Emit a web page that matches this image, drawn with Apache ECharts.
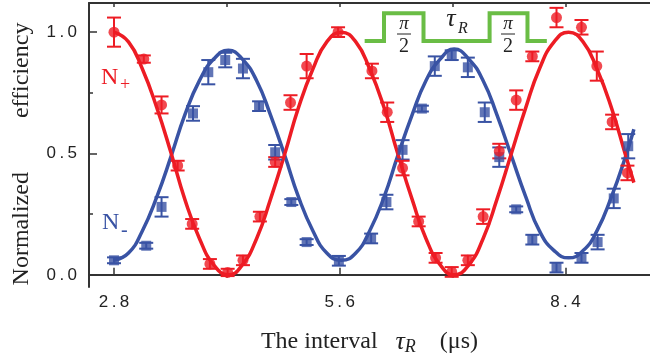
<!DOCTYPE html>
<html>
<head>
<meta charset="utf-8">
<script src="https://cdn.jsdelivr.net/npm/echarts@6/dist/echarts.min.js"></script>
<style>
html,body{margin:0;padding:0;background:#fff;}
#chart{width:650px;height:362px;}
</style>
</head>
<body>
<div id="chart"></div>
<script>
// ---- data ----
const xMajorTicks = [2.8, 5.6, 8.4];
const xMinorTicks = [4.2, 7.0];
const yMajorTicks = [0.0, 0.5, 1.0];
const yMinorTicks = [0.25, 0.75];

const redX   = [2.8, 3.17, 3.39, 3.59, 3.77, 3.99, 4.21, 4.40, 4.61, 4.80, 4.99, 5.19, 5.58, 6.00, 6.19, 6.38, 6.58, 6.79, 6.99, 7.19, 7.38, 7.58, 7.79, 7.99, 8.29, 8.60, 8.79, 8.98, 9.17];
const redY   = [1.00, 0.889, 0.70, 0.45, 0.21, 0.045, 0.01, 0.06, 0.24, 0.465, 0.71, 0.86, 1.00, 0.84, 0.67, 0.44, 0.22, 0.07, 0.012, 0.06, 0.24, 0.51, 0.72, 0.90, 1.06, 1.02, 0.86, 0.63, 0.42];
const redErr = [0.06, 0.015, 0.035, 0.02, 0.02, 0.02, 0.015, 0.02, 0.02, 0.02, 0.03, 0.05, 0.02, 0.03, 0.04, 0.03, 0.02, 0.02, 0.02, 0.02, 0.03, 0.03, 0.04, 0.02, 0.04, 0.03, 0.06, 0.03, 0.03];

const blueX   = [2.8, 3.2, 3.39, 3.78, 3.97, 4.18, 4.40, 4.60, 4.80, 5.00, 5.19, 5.59, 5.99, 6.18, 6.38, 6.62, 6.78, 6.99, 7.19, 7.40, 7.58, 7.79, 7.99, 8.29, 8.60, 8.80, 9.00, 9.18];
const blueY   = [0.06, 0.12, 0.28, 0.665, 0.835, 0.885, 0.85, 0.695, 0.505, 0.30, 0.135, 0.058, 0.15, 0.30, 0.515, 0.685, 0.86, 0.905, 0.855, 0.67, 0.485, 0.27, 0.145, 0.03, 0.07, 0.135, 0.315, 0.53];
const blueErr = [0.012, 0.012, 0.04, 0.03, 0.05, 0.03, 0.04, 0.02, 0.03, 0.012, 0.012, 0.02, 0.02, 0.03, 0.04, 0.012, 0.04, 0.02, 0.04, 0.04, 0.04, 0.012, 0.02, 0.02, 0.02, 0.03, 0.04, 0.05];

const fitX    = [2.8, 2.98, 3.15, 3.33, 3.51, 3.68, 3.86, 4.04, 4.22, 4.39, 4.57, 4.74, 4.92, 5.09, 5.27, 5.44, 5.62, 5.80, 5.97, 6.15, 6.32, 6.50, 6.67, 6.85, 7.02, 7.20, 7.38, 7.55, 7.73, 7.91, 8.08, 8.26, 8.44, 8.62, 8.79, 8.97, 9.15, 9.25];
const redFit  = [1.00, 0.96, 0.85, 0.69, 0.50, 0.31, 0.15, 0.04, 0.00, 0.04, 0.15, 0.31, 0.50, 0.69, 0.85, 0.96, 1.00, 0.96, 0.85, 0.69, 0.50, 0.31, 0.15, 0.04, 0.00, 0.04, 0.15, 0.31, 0.50, 0.69, 0.85, 0.96, 1.00, 0.96, 0.85, 0.69, 0.49, 0.38];
const blueFit = [0.06, 0.09, 0.18, 0.32, 0.49, 0.66, 0.80, 0.89, 0.925, 0.89, 0.80, 0.66, 0.49, 0.32, 0.18, 0.09, 0.06, 0.09, 0.18, 0.32, 0.49, 0.66, 0.80, 0.89, 0.93, 0.89, 0.80, 0.66, 0.49, 0.32, 0.18, 0.10, 0.07, 0.10, 0.18, 0.32, 0.49, 0.60];

// pulse-sequence inset (in data units)
const pulseX = [5.91, 6.15, 6.15, 6.64, 6.64, 7.46, 7.46, 7.93, 7.93, 8.17];
const pulseY = [0.963, 0.963, 1.078, 1.078, 0.963, 0.963, 1.078, 1.078, 0.963, 0.963];

// ---- styles ----
const RED = '#ED1C24', BLUE = '#3953A4', GREEN = '#6ABD45', AX = '#333';
const SERIF = '"Liberation Serif","Times New Roman",serif';
const SANS = '"Liberation Sans",Arial,sans-serif';
const THIN = '\u2009';
const spaced = v => v.toFixed(1).split('').join(THIN);

const zip = (a, b, c) => a.map((v, i) => c ? [v, b[i], c[i]] : [v, b[i]]);

function errRender(color) {
  return function (params, api) {
    const x = api.value(0), y = api.value(1), e = api.value(2);
    const t = api.coord([x, y + e]), b = api.coord([x, y - e]);
    const hw = 7;
    const st = { stroke: color, lineWidth: 2 };
    return { type: 'group', children: [
      { type: 'line', shape: { x1: t[0], y1: t[1], x2: b[0], y2: b[1] }, style: st },
      { type: 'line', shape: { x1: t[0] - hw, y1: t[1], x2: t[0] + hw, y2: t[1] }, style: st },
      { type: 'line', shape: { x1: b[0] - hw, y1: b[1], x2: b[0] + hw, y2: b[1] }, style: st }
    ]};
  };
}

const XMIN = 2.49, XMAX = 9.45, YMIN = -0.05, YMAX = 1.12;

const chart = echarts.init(document.getElementById('chart'));
chart.setOption({
  animation: false,
  backgroundColor: '#fff',
  grid: { left: 89, right: -2, top: 3, bottom: 75, containLabel: false },
  xAxis: [
    {
      type: 'value', min: XMIN, max: XMAX, position: 'bottom',
      axisLine: { show: true, lineStyle: { color: AX, width: 2 } },
      axisTick: { show: true, inside: true, length: 7, customValues: xMajorTicks, lineStyle: { color: AX, width: 1.5 } },
      axisLabel: { customValues: xMajorTicks, formatter: spaced, fontFamily: SANS, fontSize: 17, color: '#222', margin: 7 },
      splitLine: { show: false },
      name: '{a|The interval   }{i|τ}{r|R}{a|    (μs)}',
      nameLocation: 'middle', nameGap: 41,
      nameTextStyle: {
        padding: [0, 0, 0, 0],
        rich: {
          a: { fontFamily: SERIF, fontSize: 24, color: '#222', lineHeight: 28 },
          i: { fontFamily: SERIF, fontSize: 26, fontStyle: 'italic', color: '#222', lineHeight: 28 },
          r: { fontFamily: SERIF, fontSize: 18, fontStyle: 'italic', color: '#222', lineHeight: 20, verticalAlign: 'bottom' }
        }
      }
    },
    {
      type: 'value', min: XMIN, max: XMAX, position: 'bottom',
      axisLine: { show: false },
      axisTick: { show: true, inside: false, length: 3, customValues: xMinorTicks, lineStyle: { color: AX, width: 1.5 } },
      axisLabel: { show: false }, splitLine: { show: false }
    },
    {
      type: 'value', min: XMIN, max: XMAX, position: 'top',
      axisLine: { show: true, lineStyle: { color: AX, width: 2 } },
      axisTick: { show: true, inside: true, length: 4, customValues: xMajorTicks.concat(xMinorTicks), lineStyle: { color: AX, width: 1.5 } },
      axisLabel: { show: false }, splitLine: { show: false }
    }
  ],
  yAxis: [
    {
      type: 'value', min: YMIN, max: YMAX, position: 'left',
      axisLine: { show: true, lineStyle: { color: AX, width: 2 } },
      axisTick: { show: true, inside: true, length: 8, customValues: yMajorTicks, lineStyle: { color: AX, width: 1.5 } },
      axisLabel: { customValues: yMajorTicks, formatter: spaced, fontFamily: SANS, fontSize: 17, color: '#222', margin: 12 },
      splitLine: { show: false }
    },
    {
      type: 'value', min: YMIN, max: YMAX, position: 'left',
      axisLine: { show: false },
      axisTick: { show: true, inside: true, length: 4, customValues: yMinorTicks, lineStyle: { color: AX, width: 1.5 } },
      axisLabel: { show: false }, splitLine: { show: false }
    }
  ],
  series: [
    { type: 'line', data: zip(fitX, blueFit), smooth: true, symbol: 'none', lineStyle: { color: BLUE, width: 3.5 }, z: 2 },
    { type: 'line', data: zip(fitX, redFit), smooth: true, symbol: 'none', lineStyle: { color: RED, width: 3.5 }, z: 2 },
    { type: 'custom', renderItem: errRender(BLUE), data: zip(blueX, blueY, blueErr), encode: { x: 0, y: 1 }, z: 3 },
    { type: 'custom', renderItem: errRender(RED), data: zip(redX, redY, redErr), encode: { x: 0, y: 1 }, z: 3 },
    { type: 'scatter', data: zip(blueX, blueY), symbol: 'rect', symbolSize: 10, itemStyle: { color: BLUE }, z: 4 },
    { type: 'scatter', data: zip(redX, redY), symbol: 'circle', symbolSize: 11, itemStyle: { color: RED }, z: 4 },
    { type: 'line', data: zip(pulseX, pulseY), symbol: 'none', smooth: false, lineStyle: { color: GREEN, width: 4, cap: 'butt', join: 'miter' }, z: 5 }
  ],
  graphic: [
    // y-axis title
    { type: 'text', x: 22, y: 154, rotation: Math.PI / 2,
      style: { text: 'Normalized         efficiency', font: '24px ' + SERIF, fill: '#222', align: 'center', verticalAlign: 'middle' } },
    // N+ / N- labels
    { type: 'text', left: 101, top: 66, style: { text: 'N', font: '24px ' + SERIF, fill: RED } },
    { type: 'text', left: 120, top: 76, style: { text: '+', font: '18px ' + SERIF, fill: RED } },
    { type: 'text', left: 102, top: 211, style: { text: 'N', font: '24px ' + SERIF, fill: BLUE } },
    { type: 'text', left: 121, top: 221, style: { text: '-', font: '20px ' + SERIF, fill: BLUE } },
    // pulse annotations
    { type: 'text', x: 404, y: 24, style: { text: 'π', font: 'italic 19px ' + SERIF, fill: '#222', align: 'center', verticalAlign: 'middle' } },
    { type: 'line', shape: { x1: 397, y1: 34, x2: 411, y2: 34 }, style: { stroke: '#222', lineWidth: 1 } },
    { type: 'text', x: 404, y: 47, style: { text: '2', font: '20px ' + SERIF, fill: '#222', align: 'center', verticalAlign: 'middle' } },
    { type: 'text', x: 508, y: 24, style: { text: 'π', font: 'italic 19px ' + SERIF, fill: '#222', align: 'center', verticalAlign: 'middle' } },
    { type: 'line', shape: { x1: 501, y1: 34, x2: 515, y2: 34 }, style: { stroke: '#222', lineWidth: 1 } },
    { type: 'text', x: 508, y: 47, style: { text: '2', font: '20px ' + SERIF, fill: '#222', align: 'center', verticalAlign: 'middle' } },
    { type: 'text', x: 451, y: 19, style: { text: 'τ', font: 'italic 26px ' + SERIF, fill: '#222', align: 'center', verticalAlign: 'middle' } },
    { type: 'text', x: 458, y: 29, style: { text: 'R', font: 'italic 16px ' + SERIF, fill: '#222', align: 'left', verticalAlign: 'middle' } }
  ]
});
</script>
</body>
</html>
